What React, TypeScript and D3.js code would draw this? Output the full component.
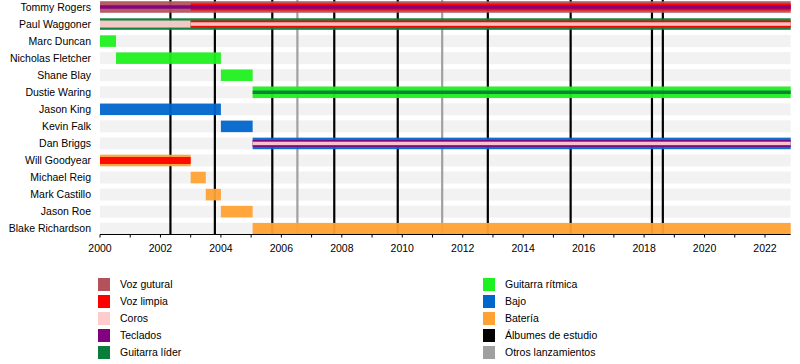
import React from 'react';
import * as d3 from 'd3';

// Band members, top to bottom
const members = [
    'Tommy Rogers', 'Paul Waggoner', 'Marc Duncan', 'Nicholas Fletcher', 'Shane Blay',
    'Dustie Waring', 'Jason King', 'Kevin Falk', 'Dan Briggs', 'Will Goodyear',
    'Michael Reig', 'Mark Castillo', 'Jason Roe', 'Blake Richardson'
];

const roles = ['Voz gutural', 'Voz limpia', 'Coros', 'Teclados', 'Guitarra líder',
    'Guitarra rítmica', 'Bajo', 'Batería'];
const roleColors = ['#b4525c', '#ff0000', '#ffcccc', '#800080', '#0b7d3a',
    '#1ff01f', '#0066cc', '#ffa133'];

const START = 2000;
const END = 2022.85;

// layer 0 = full bar, 1 = medium stripe, 2 = thin stripe
const periods = [
    { member: 'Tommy Rogers', role: 'Voz gutural', from: START, to: END, layer: 0 },
    { member: 'Tommy Rogers', role: 'Voz limpia', from: 2003, to: END, layer: 1 },
    { member: 'Tommy Rogers', role: 'Teclados', from: START, to: END, layer: 2 },
    { member: 'Paul Waggoner', role: 'Guitarra líder', from: START, to: END, layer: 0 },
    { member: 'Paul Waggoner', role: 'Coros', from: START, to: 2003, layer: 1 },
    { member: 'Paul Waggoner', role: 'Voz limpia', from: 2003, to: END, layer: 1 },
    { member: 'Paul Waggoner', role: 'Coros', from: 2003, to: END, layer: 2 },
    { member: 'Marc Duncan', role: 'Guitarra rítmica', from: START, to: 2000.53, layer: 0 },
    { member: 'Nicholas Fletcher', role: 'Guitarra rítmica', from: 2000.53, to: 2004, layer: 0 },
    { member: 'Shane Blay', role: 'Guitarra rítmica', from: 2004, to: 2005.05, layer: 0 },
    { member: 'Dustie Waring', role: 'Guitarra rítmica', from: 2005.05, to: END, layer: 0 },
    { member: 'Dustie Waring', role: 'Guitarra líder', from: 2005.05, to: END, layer: 2 },
    { member: 'Jason King', role: 'Bajo', from: START, to: 2004, layer: 0 },
    { member: 'Kevin Falk', role: 'Bajo', from: 2004, to: 2005.05, layer: 0 },
    { member: 'Dan Briggs', role: 'Bajo', from: 2005.05, to: END, layer: 0 },
    { member: 'Dan Briggs', role: 'Teclados', from: 2005.05, to: END, layer: 1 },
    { member: 'Dan Briggs', role: 'Coros', from: 2005.05, to: END, layer: 2 },
    { member: 'Will Goodyear', role: 'Batería', from: START, to: 2003, layer: 0 },
    { member: 'Will Goodyear', role: 'Voz limpia', from: START, to: 2003, layer: 1 },
    { member: 'Michael Reig', role: 'Batería', from: 2003, to: 2003.5, layer: 0 },
    { member: 'Mark Castillo', role: 'Batería', from: 2003.5, to: 2004, layer: 0 },
    { member: 'Jason Roe', role: 'Batería', from: 2004, to: 2005.05, layer: 0 },
    { member: 'Blake Richardson', role: 'Batería', from: 2005.05, to: END, layer: 0 }
];

const studioAlbums = [2002.33, 2003.8, 2005.7, 2007.75, 2009.85, 2012.83, 2015.57, 2018.26, 2018.62];
const otherReleases = [2006.53, 2011.32];

const yearTicks = d3.range(2000, 2023);
const yearLabels = d3.range(2000, 2023, 2);

const legendLeft = ['Voz gutural', 'Voz limpia', 'Coros', 'Teclados', 'Guitarra líder'];
const legendRight = ['Guitarra rítmica', 'Bajo', 'Batería', 'Álbumes de estudio', 'Otros lanzamientos'];
const legendRightColors = ['#1ff01f', '#0066cc', '#ffa133', '#000000', '#a0a0a0'];

const font = '"Liberation Sans", Arial, sans-serif';

export default function App() {
    const width = 800;
    const height = 364;

    const x = d3.scaleLinear().domain([START, END]).range([100, 790.7]);
    const y = d3.scalePoint<string>().domain(members).range([7, 228.7]);
    const axisY = 234.5;
    const barH = [11.5, 7, 3.5];
    const colorOf = (role: string) => roleColors[roles.indexOf(role)];

    return (
        <svg width={width} height={height}
            style={{ position: 'absolute', left: 0, top: 0, fontFamily: font }}>
            <rect width={width} height={height} fill="#ffffff" />

            {/* row backgrounds */}
            {members.map(m => (
                <rect key={m} x={x(START)} y={(y(m) as number) - 6} width={x(END) - x(START)}
                    height={12} fill="#f2f2f2" />
            ))}

            {/* release markers */}
            {studioAlbums.map((d, i) => (
                <line key={'a' + i} x1={x(d)} x2={x(d)} y1={0} y2={axisY}
                    stroke="#000000" strokeWidth={2.2} />
            ))}
            {otherReleases.map((d, i) => (
                <line key={'o' + i} x1={x(d)} x2={x(d)} y1={0} y2={axisY}
                    stroke="#a0a0a0" strokeWidth={2.2} />
            ))}

            {/* bars */}
            {periods.map((p, i) => {
                const h = barH[p.layer];
                return (
                    <rect key={'p' + i} x={x(p.from)} y={(y(p.member) as number) - h / 2}
                        width={x(p.to) - x(p.from)} height={h}
                        fill={colorOf(p.role)} fillOpacity={0.95} />
                );
            })}

            {/* member labels */}
            {members.map(m => (
                <text key={'l' + m} x={91} y={y(m) as number} dy="0.35em" textAnchor="end"
                    fontSize={10.5} fill="#000000">{m}</text>
            ))}

            {/* axis */}
            <line x1={x(START)} x2={x(END)} y1={axisY} y2={axisY} stroke="#000000" strokeWidth={1} />
            {yearTicks.map(t => (
                <line key={'t' + t} x1={x(t)} x2={x(t)} y1={axisY} y2={axisY + 3}
                    stroke="#000000" strokeWidth={1} />
            ))}
            {yearLabels.map(t => (
                <text key={'yl' + t} x={x(t)} y={axisY + 17} textAnchor="middle"
                    fontSize={10.5} fill="#000000">{t}</text>
            ))}

            {/* legend */}
            {legendLeft.map((r, i) => (
                <g key={'ll' + r} transform={`translate(98,${278 + i * 17})`}>
                    <rect width={12} height={13} fill={colorOf(r)} />
                    <text x={22} y={6.5} dy="0.35em" fontSize={10.5} fill="#000000">{r}</text>
                </g>
            ))}
            {legendRight.map((r, i) => (
                <g key={'lr' + r} transform={`translate(483,${278 + i * 17})`}>
                    <rect width={12} height={13} fill={legendRightColors[i]} />
                    <text x={22} y={6.5} dy="0.35em" fontSize={10.5} fill="#000000">{r}</text>
                </g>
            ))}
        </svg>
    );
}
